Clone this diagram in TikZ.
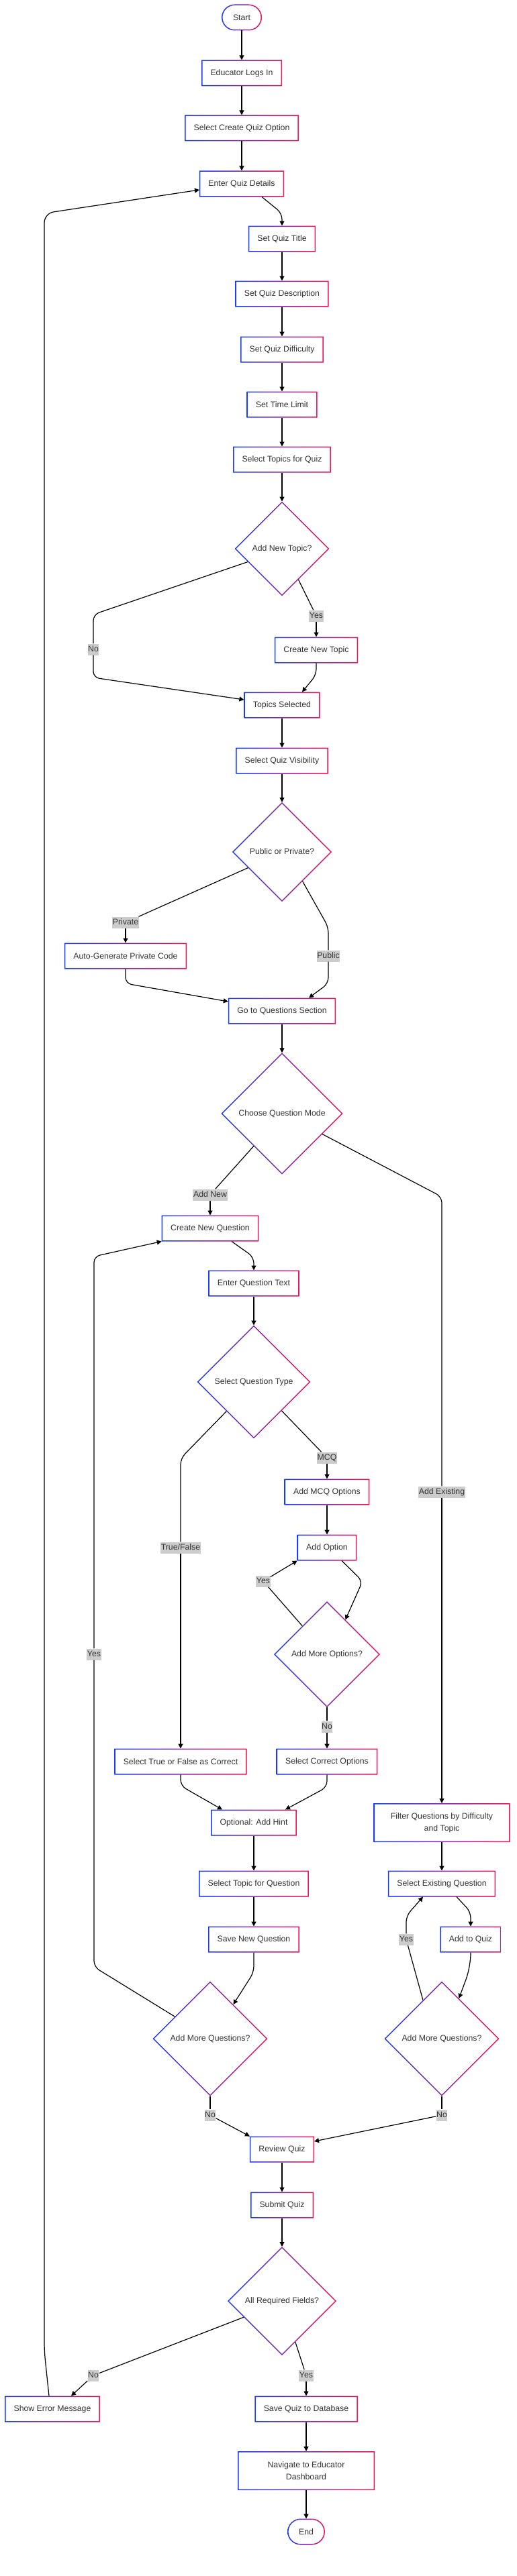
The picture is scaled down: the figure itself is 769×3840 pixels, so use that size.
\documentclass[tikz,border=0pt]{standalone}
\usepackage{fontspec}
\setmainfont{Liberation Sans}
\usetikzlibrary{shapes.geometric}
\usetikzlibrary{arrows.meta}

\definecolor{qblue}{RGB}{25,60,250}
\definecolor{qred}{RGB}{240,20,85}
\definecolor{qtext}{RGB}{51,51,51}
\newcommand{\qfont}{\fontsize{12.3pt}{18pt}\selectfont}

\tikzset{
  box/.style={rectangle,fill=white,inner xsep=13.5pt,minimum height=39pt,outer sep=0pt,text=qtext,font=\qfont},
  term/.style={box,inner xsep=17pt},
  decision/.style={diamond,aspect=1,fill=white,inner sep=10pt,outer sep=0pt,text height=9pt,text depth=3pt,text=qtext,font=\qfont},
  elabel/.style={fill=gray!40,inner xsep=0.6pt,inner ysep=2.5pt,text height=9pt,text depth=3pt,text=qtext,font=\qfont},
  line/.style={draw=black,line width=1.2pt,rounded corners=9pt},
  arr/.style={line,-{Triangle[length=7pt,width=7pt]}}
}

% gradient borders
\newcommand{\qboxrim}[1]{\shade[left color=qblue,right color=qred,even odd rule]
  (#1.south west) rectangle (#1.north east)
  ([xshift=1.5pt,yshift=1.5pt]#1.south west) rectangle ([xshift=-1.5pt,yshift=-1.5pt]#1.north east);}
\newcommand{\qtermrim}[1]{\shade[left color=qblue,right color=qred,even odd rule,rounded corners=19.5pt]
  (#1.south west) rectangle (#1.north east)
  [rounded corners=18pt] ([xshift=1.5pt,yshift=1.5pt]#1.south west) rectangle ([xshift=-1.5pt,yshift=-1.5pt]#1.north east);}
\newcommand{\qdiamrim}[1]{\shade[left color=qblue,right color=qred,even odd rule]
  (#1.north) -- (#1.east) -- (#1.south) -- (#1.west) -- cycle
  ([yshift=-2pt]#1.north) -- ([xshift=-2pt]#1.east) -- ([yshift=2pt]#1.south) -- ([xshift=2pt]#1.west) -- cycle;}

\begin{document}
\begin{tikzpicture}[x=1pt,y=-1pt]
\useasboundingbox (0,0) rectangle (769,3840);

\node[term] (start) at (360,26) {Start};
\node[box] (login) at (360,109) {Educator Logs In};
\node[box] (create) at (360,191) {Select Create Quiz Option};
\node[box] (details) at (360,274) {Enter Quiz Details};
\node[box] (title) at (420,356) {Set Quiz Title};
\node[box] (desc) at (420,438) {Set Quiz Description};
\node[box] (diff) at (420,521) {Set Quiz Difficulty};
\node[box] (time) at (420,603) {Set Time Limit};
\node[box] (topics) at (420,685) {Select Topics for Quiz};
\node[decision] (addtopic) at (420,818) {Add New Topic?};
\node[box] (newtopic) at (471,969) {Create New Topic};
\node[box] (selected) at (420,1051) {Topics Selected};
\node[box] (visib) at (420,1134) {Select Quiz Visibility};
\node[decision] (pubpriv) at (420,1270) {Public or Private?};
\node[box] (autocode) at (187,1425) {Auto-Generate Private Code};
\node[box] (goto) at (420,1507) {Go to Questions Section};
\node[decision] (mode) at (420,1660) {Choose Question Mode};
\node[box] (newq) at (313,1831) {Create New Question};
\node[box] (qtext) at (378,1913) {Enter Question Text};
\node[decision] (qtype) at (378,2060) {Select Question Type};
\node[box] (mcq) at (487,2224) {Add MCQ Options};
\node[box] (addopt) at (487,2307) {Add Option};
\node[decision] (moreopt) at (487,2466) {Add More Options?};
\node[box] (tfright) at (269,2626) {Select True or False as Correct};
\node[box] (correct) at (487,2626) {Select Correct Options};
\node[box] (hint) at (378,2717) {Optional: Add Hint};
\node[box] (qtopic) at (378,2808) {Select Topic for Question};
\node[box] (saveq) at (378,2891) {Save New Question};
\node[decision] (moreq) at (313,3039) {Add More Questions?};
\node[box,minimum width=203pt,minimum height=58pt,align=center] (filter) at (658,2717) {Filter Questions by Difficulty\\and Topic};
\node[box] (existing) at (658,2808) {Select Existing Question};
\node[box] (addquiz) at (701,2891) {Add to Quiz};
\node[decision] (moreex) at (658,3039) {Add More Questions?};
\node[box] (review) at (420,3204) {Review Quiz};
\node[box] (submit) at (420,3287) {Submit Quiz};
\node[decision] (fields) at (420,3430) {All Required Fields?};
\node[box] (error) at (78,3591) {Show Error Message};
\node[box] (savedb) at (456,3591) {Save Quiz to Database};
\node[box,minimum width=204pt,minimum height=58pt,align=center] (dash) at (456,3683) {Navigate to Educator\\Dashboard};
\node[term] (stop) at (456,3774) {End};

\foreach \n in {login,create,details,title,desc,diff,time,topics,newtopic,selected,visib,autocode,goto,newq,qtext,mcq,addopt,tfright,correct,hint,qtopic,saveq,filter,existing,addquiz,review,submit,error,savedb,dash}
  {\qboxrim{\n}}
\foreach \n in {addtopic,pubpriv,mode,qtype,moreopt,moreq,moreex,fields}
  {\qdiamrim{\n}}
\qtermrim{start}
\qtermrim{stop}

\node[elabel] (lyes1) at (471,918) {Yes};
\node[elabel] (lno1) at (139,968) {No};
\node[elabel] (lpriv) at (187,1375) {Private};
\node[elabel] (lpub) at (489,1425) {Public};
\node[elabel] (lnew) at (313,1781) {Add New};
\node[elabel] (lexist) at (658,2224) {Add Existing};
\node[elabel] (lmcq) at (487,2173) {MCQ};
\node[elabel] (ltf) at (269,2307) {True/False};
\node[elabel] (lyes2) at (392,2357) {Yes};
\node[elabel] (lno2) at (487,2574) {No};
\node[elabel] (lyes3) at (140,2466) {Yes};
\node[elabel] (lyes4) at (605,2891) {Yes};
\node[elabel] (lno3) at (313,3153) {No};
\node[elabel] (lno4) at (658,3153) {No};
\node[elabel] (lno5) at (139,3541) {No};
\node[elabel] (lyes5) at (456,3541) {Yes};

\draw[arr] (start) -- (login);
\draw[arr] (login) -- (create);
\draw[arr] (create) -- (details);
\draw[arr] ([xshift=30pt]details.south) -- (420,318) -- (title);
\draw[arr] (title) -- (desc);
\draw[arr] (desc) -- (diff);
\draw[arr] (diff) -- (time);
\draw[arr] (time) -- (topics);
\draw[arr] (topics) -- (addtopic);
\draw[line] (addtopic.-62) -- (lyes1);
\draw[arr] (lyes1) -- (newtopic);
\draw[line] (addtopic.201) -- (139,916) -- (lno1);
\draw[arr] (lno1) -- (139,1010) -- ([yshift=8pt]selected.west);
\draw[arr] (newtopic.south) -- (471,1006) -- ([xshift=30pt]selected.north);
\draw[arr] (selected) -- (visib);
\draw[arr] (visib) -- (pubpriv);
\draw[line] (pubpriv.205) -- (lpriv);
\draw[arr] (lpriv) -- (autocode);
\draw[line] (pubpriv.-55) -- (489,1382) -- (lpub);
\draw[arr] (lpub) -- (489,1466) -- ([xshift=40pt]goto.north);
\draw[arr] (autocode.south) -- (187,1466) -- ([yshift=14pt]goto.west);
\draw[arr] (goto) -- (mode);
\draw[line] (mode.229) -- (lnew);
\draw[arr] (lnew) -- (newq);
\draw[line] (mode.-27) -- (658,1784) -- (lexist);
\draw[arr] (lexist) -- (filter);
\draw[arr] ([xshift=32pt]newq.south) -- (378,1874) -- (qtext);
\draw[arr] (qtext) -- (qtype);
\draw[line] (qtype.-46) -- (lmcq);
\draw[arr] (lmcq) -- (mcq);
\draw[line] (qtype.227) -- (269,2174) -- (ltf);
\draw[arr] (ltf) -- (tfright);
\draw[arr] (mcq) -- (addopt);
\draw[arr] ([xshift=22pt]addopt.south) -- (540,2357) -- (moreopt.62);
\draw[line] (moreopt.131) -- (lyes2);
\draw[arr] (lyes2) -- (addopt.south west);
\draw[line] (moreopt) -- (lno2);
\draw[arr] (lno2) -- (correct);
\draw[arr] (tfright.south) -- (269,2662) -- ([xshift=-47pt]hint.north);
\draw[arr] (correct.south) -- (487,2664) -- ([xshift=47pt]hint.north);
\draw[arr] (hint) -- (qtopic);
\draw[arr] (qtopic) -- (saveq);
\draw[arr] (saveq.south) -- (378,2940) -- (moreq.56);
\draw[line] (moreq.148) -- (140,2932) -- (lyes3);
\draw[arr] (lyes3) -- (140,1873) -- (newq.south west);
\draw[line] (moreq) -- (lno3);
\draw[arr] (lno3) -- (review.north west);
\draw[arr] (filter) -- (existing);
\draw[arr] ([xshift=22pt]existing.south) -- (701,2850) -- (addquiz);
\draw[arr,rounded corners=20pt] (addquiz.south) -- (701,2932) -- (moreex.67);
\draw[line] (moreex.116) -- (lyes4);
\draw[arr] (lyes4) -- (605,2856) -- ([xshift=-28pt]existing.south);
\draw[line] (moreex) -- (lno4);
\draw[arr] (lno4) -- ([yshift=12pt]review.east);
\draw[arr] (review) -- (submit);
\draw[arr] (submit) -- (fields);
\draw[line] (fields.203) -- (lno5);
\draw[arr] (lno5) -- ([xshift=28pt]error.north);
\draw[line] (fields.-72) -- (lyes5);
\draw[arr] (lyes5) -- (savedb);
\draw[arr,rounded corners=14pt] ([xshift=-5pt]error.north) -- (66,3505) -- (66,318) -- ([yshift=-9pt]details.west);
\draw[arr] (savedb) -- (dash);
\draw[arr] (dash) -- (stop);
\end{tikzpicture}
\end{document}
